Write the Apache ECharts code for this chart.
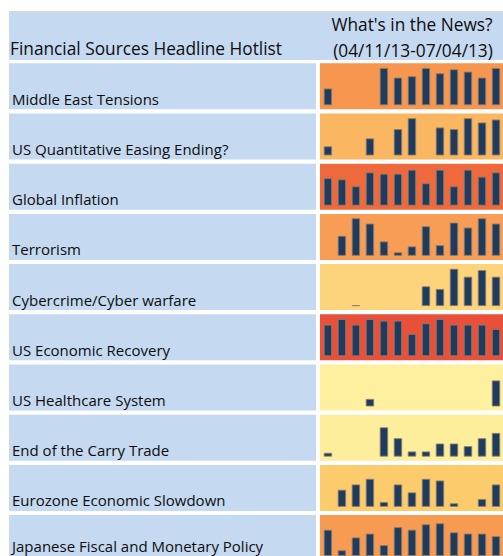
<!DOCTYPE html>
<html>
<head>
<meta charset="utf-8">
<title>Financial Sources Headline Hotlist</title>
<script src="https://cdn.jsdelivr.net/npm/echarts@6/dist/echarts.min.js"></script>
<style>
    html, body { margin: 0; padding: 0; background: #fff; overflow: hidden; }
    #chart { width: 503px; height: 556px; }
</style>
</head>
<body>
<div id="chart"></div>
<script>
    // weeks shown in each sparkline (04/11/13 - 07/04/13)
    const weeks = ['04/11', '04/18', '04/25', '05/02', '05/09', '05/16', '05/23',
        '05/30', '06/06', '06/13', '06/20', '06/27', '07/04']

    const topics = [
        'Middle East Tensions',
        'US Quantitative Easing Ending?',
        'Global Inflation',
        'Terrorism',
        'Cybercrime/Cyber warfare',
        'US Economic Recovery',
        'US Healthcare System',
        'End of the Carry Trade',
        'Eurozone Economic Slowdown',
        'Japanese Fiscal and Monetary Policy'
    ]

    // relative headline volume per week (null = no mentions)
    const middleEast = [51, null, null, null, 113, 84, 88, 113, 97, 109, 102, 84, 113]
    const qeEnding = [28, null, null, 52, null, 80, 113, null, 85, 80, 113, 100, 109]
    const inflation = [84, 80, 59, 101, 97, 97, 109, 68, 109, 59, 109, 88, 101]
    const terrorism = [null, 61, 114, 98, 44, 11, 29, 90, 33, 101, 86, 114, 98]
    const cybercrime = [null, null, 3, null, null, null, null, 60, 52, 113, 89, 109, 89]
    const recovery = [96, 113, 96, 113, 108, 108, 68, 100, 113, 96, 96, 96, 83]
    const healthcare = [null, null, null, 23, null, null, null, null, null, null, null, null, 79]
    const carryTrade = [12, null, null, null, 89, 56, 16, 16, 40, 40, 32, 56, 72]
    const eurozone = [null, 52, 68, 85, 15, 68, 44, 85, 80, 11, null, 24, 68]
    const japan = [82, 18, 58, 70, 34, 90, 82, 99, 102, 74, 70, 70, 62]

    const rows = [middleEast, qeEnding, inflation, terrorism, cybercrime,
        recovery, healthcare, carryTrade, eurozone, japan]

    // heat colour of each row's cell
    const heat = ['#F7964F', '#FBB661', '#EE6A3D', '#F89D55', '#FDD47B',
        '#E9503A', '#FEF09F', '#FDEE9B', '#FCCB6B', '#F79A52']

    const headerLines = ["What's in the News?", '(04/11/13-07/04/13)']
    const tableTitle = 'Financial Sources Headline Hotlist'

    // layout
    const W = 503
    const rowTop = 63.3
    const rowStep = 50.2
    const cellH = 46
    const labelX = 9
    const labelW = 307
    const panelX = 320
    const font = '"Open Sans", "Noto Sans", sans-serif'
    const ink = '#0d0d0d'

    let chart = echarts.init(document.getElementById('chart'), null, { renderer: 'svg' })

    let graphics = [
        // top border line
        { type: 'rect', shape: { x: labelX, y: 11, width: W - labelX, height: 1 }, style: { fill: '#D9D9D9' }, silent: true },
        // header band
        { type: 'rect', shape: { x: labelX, y: 12, width: W - labelX, height: 48 }, style: { fill: '#C5D9F1' }, silent: true },
        { type: 'text', style: { x: 10, y: 48, text: tableTitle, font: '17.3px ' + font, fill: ink, verticalAlign: 'middle' }, silent: true },
        { type: 'text', style: { x: 412, y: 24.5, text: headerLines[0], font: '17.3px ' + font, fill: ink, align: 'center', verticalAlign: 'middle' }, silent: true },
        { type: 'text', style: { x: 413, y: 50, text: headerLines[1], font: '17.3px ' + font, fill: ink, align: 'center', verticalAlign: 'middle' }, silent: true }
    ]

    let grids = []
    let xAxes = []
    let yAxes = []
    let series = []

    rows.forEach(function (data, i) {
        let top = rowTop + rowStep * i
        // last label sits on the picture's lower edge, lift it a little so it stays whole
        let textY = i === rows.length - 1 ? top + 30.5 : top + 35.5
        // label cell
        graphics.push({ type: 'rect', shape: { x: labelX, y: top, width: labelW, height: cellH }, style: { fill: '#C5D9F1' }, silent: true })
        graphics.push({ type: 'text', style: { x: 12, y: textY, text: topics[i], font: '15px ' + font, fill: ink, verticalAlign: 'middle' }, silent: true })
        // heat cell
        graphics.push({ type: 'rect', shape: { x: panelX, y: top, width: W - panelX + 5, height: cellH }, style: { fill: heat[i] }, silent: true })

        grids.push({ left: 320.9, right: -2.1, top: top + 4.3, height: 37.7 })
        xAxes.push({ type: 'category', gridIndex: i, data: weeks, show: false })
        yAxes.push({ type: 'value', gridIndex: i, min: 0, max: 114, show: false })
        series.push({
            name: topics[i],
            type: 'bar',
            xAxisIndex: i,
            yAxisIndex: i,
            data: data,
            barWidth: 8.5,
            itemStyle: {
                color: '#1F3B5E',
                borderColor: 'rgba(140,128,115,0.85)',
                borderWidth: 1
            },
            silent: true
        })
    })

    let option = {
        animation: false,
        backgroundColor: '#fff',
        graphic: { elements: graphics },
        grid: grids,
        xAxis: xAxes,
        yAxis: yAxes,
        series: series
    }

    chart.setOption(option)
</script>
</body>
</html>
